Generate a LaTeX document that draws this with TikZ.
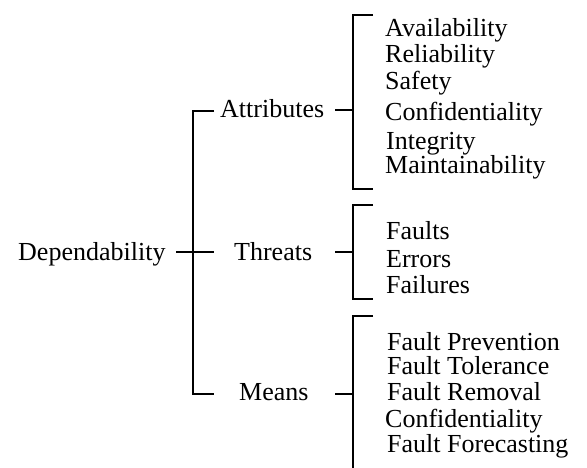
\documentclass[tikz,border=0pt]{standalone}
\usepackage{fontspec}
\setmainfont{Liberation Serif}
\begin{document}
\begin{tikzpicture}[x=1pt,y=-1pt,
  lbl/.style={inner sep=0pt,anchor=base west,font=\fontsize{26}{30}\selectfont},
  brk/.style={line width=1.6pt}]
\useasboundingbox (0,0) rectangle (587,468);
% root and main bracket
\node[lbl] (dep) at (18,261) {Dependability};
\coordinate (hub) at (176,252);
\draw[brk] (214,111) -| (193,394) -- (214,394);
\draw[brk] (hub) -- (214,252);
% second level
\node[lbl] (attr)   at (220,118) {Attributes};
\node[lbl] (threat) at (234,261) {Threats};
\node[lbl] (means)  at (239,400) {Means};
\coordinate (attr-r)   at (335,110);
\coordinate (threat-r) at (335,252);
\coordinate (means-r)  at (335,394);
\draw[brk] (attr-r) -- (353,110);
\draw[brk] (threat-r) -- (353,252);
\draw[brk] (means-r) -- (353,394);
% brackets on the right
\draw[brk] (373,15) -| (353,189) -- (373,189);
\draw[brk] (373,205) -| (353,299) -- (373,299);
\draw[brk] (373,316) -| (353,468);
% attributes
\node[lbl] (a1) at (385,37)  {Availability};
\node[lbl] (a2) at (385,63)  {Reliability};
\node[lbl] (a3) at (385,90)  {Safety};
\node[lbl] (a4) at (385,121) {Confidentiality};
\node[lbl] (a5) at (386,150) {Integrity};
\node[lbl] (a6) at (385,174) {Maintainability};
% threats
\node[lbl] (t1) at (386,240) {Faults};
\node[lbl] (t2) at (386,267) {Errors};
\node[lbl] (t3) at (386,293) {Failures};
% means
\node[lbl] (m1) at (387,350) {Fault Prevention};
\node[lbl] (m2) at (387,374) {Fault Tolerance};
\node[lbl] (m3) at (387,400) {Fault Removal};
\node[lbl] (m4) at (385,427) {Confidentiality};
\node[lbl] (m5) at (387,452) {Fault Forecasting};
\end{tikzpicture}
\end{document}
